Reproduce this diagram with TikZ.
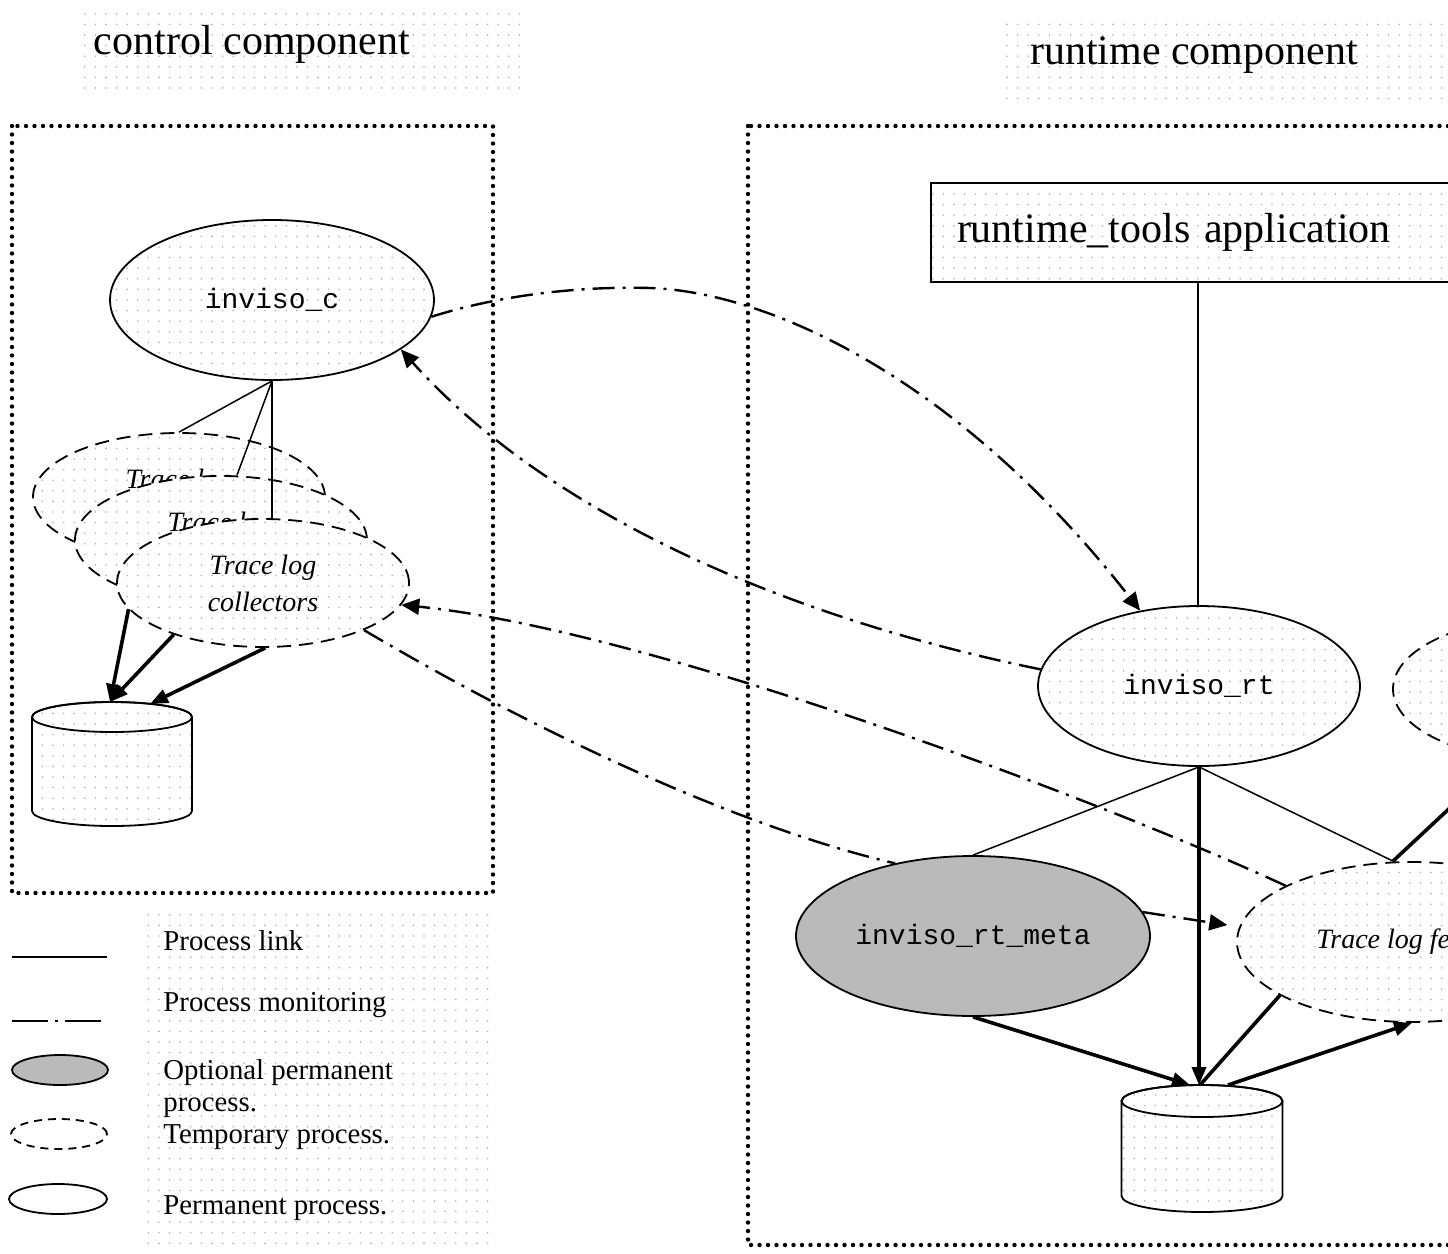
\documentclass[tikz,border=0pt]{standalone}
\usepackage{fontspec}
\setmainfont{Liberation Serif}
\setmonofont{Liberation Mono}
\usetikzlibrary{shapes.geometric,arrows.meta,patterns}

\pgfdeclarepatternformonly{paperdots}{\pgfqpoint{-1pt}{-1pt}}{\pgfqpoint{1pt}{1pt}}{\pgfqpoint{5.3pt}{5.3pt}}{\pgfpathcircle{\pgfpointorigin}{0.45pt}\pgfusepath{fill}}

\begin{document}
\begin{tikzpicture}[x=0.5pt,y=-0.5pt,
  speckled/.style={preaction={fill=white},pattern=paperdots,pattern color=black!30},
  proc/.style={ellipse,draw,line width=0.9pt,inner sep=0pt,speckled},
  tmpproc/.style={proc,dash pattern=on 7pt off 4pt},
  optproc/.style={ellipse,draw,line width=0.9pt,inner sep=0pt,fill=black!27},
  drum/.style={line width=0.9pt,speckled},
  link/.style={line width=0.75pt},
  feed/.style={line width=1.8pt,-{Triangle[length=9pt,width=7pt]}},
  monitor/.style={line width=1.2pt,dash pattern=on 11pt off 4pt on 1.5pt off 4pt,-{Triangle[length=9pt,width=8pt]}},
  zone/.style={line width=2.2pt,line cap=round,dash pattern=on 0pt off 4.25pt},
  heading/.style={font=\fontsize{21}{25}\selectfont},
  monolabel/.style={font=\ttfamily\fontsize{14}{17}\selectfont},
  slanted/.style={font=\itshape\fontsize{14}{18.5}\selectfont,align=center},
  legendtext/.style={anchor=west,font=\fontsize{14.4}{16}\selectfont,align=left,inner sep=0pt}]

\useasboundingbox (0,0) rectangle (1448,1254);
\clip (0,0) rectangle (1448,1254);

\path[speckled] (75,5) rectangle (520,95);
\path[speckled] (1000,15) rectangle (1448,105);
\path[speckled] (140,910) rectangle (490,1250);

\node[heading] (ctltitle) at (252,44) {control component};
\node[heading] (rttitle) at (1194,55) {runtime component};

\draw[zone] (12,126) rectangle (493,893);
\draw[zone] (748,126) rectangle (1560,1245);

\node[proc,monolabel,minimum width=162pt,minimum height=80pt] (ctl) at (272,300) {inviso\_c};

\node[tmpproc,slanted,minimum width=146pt,minimum height=64pt] (coll1) at (179,497) {Trace log\\collectors};
\node[tmpproc,slanted,minimum width=146pt,minimum height=64pt] (coll2) at (221,540) {Trace log\\collectors};
\node[tmpproc,slanted,minimum width=146pt,minimum height=64pt] (coll3) at (263,583) {Trace log\\collectors};

\draw[link] (ctl.south) -- (coll1.north);
\draw[link] (ctl.south) -- ([xshift=8pt]coll2.north);
\draw[link] (ctl.south) -- (ctl.south |- coll3.north);

\draw[drum] (32,717) -- (32,811) arc[start angle=180,end angle=0,x radius=80,y radius=15] -- (192,717) arc[start angle=0,end angle=-180,x radius=80,y radius=15] -- cycle;
\draw[line width=0.9pt] (112,717) ellipse[x radius=80,y radius=15];
\coordinate (dbctl) at (112,702);

\draw[feed] (coll3.191) -- ([xshift=-1pt]dbctl);
\draw[feed] (coll3.210) -- ([xshift=-1pt]dbctl);
\draw[feed] (coll3.272) -- ([xshift=19pt,yshift=-1pt]dbctl);

\node[draw,line width=0.9pt,speckled,heading,minimum width=267pt,minimum height=49.5pt,text width=241pt,inner xsep=13pt,align=left] (rtapp) at (1198,232.5) {runtime\_tools application};

\node[proc,monolabel,minimum width=161pt,minimum height=80pt] (rt) at (1199,686) {inviso\_rt};
\node[tmpproc,minimum width=150pt,minimum height=71pt] (rtaux) at (1543,689) {};
\node[optproc,monolabel,minimum width=177pt,minimum height=80pt] (rtmeta) at (973,936) {inviso\_rt\_meta};
\node[tmpproc,slanted,minimum width=175pt,minimum height=80pt] (fetch) at (1412,942) {Trace log fetcher};

\draw[drum] (1121.5,1101) -- (1121.5,1196) arc[start angle=180,end angle=0,x radius=80.5,y radius=16] -- (1282.5,1101) arc[start angle=0,end angle=-180,x radius=80.5,y radius=16] -- cycle;
\draw[line width=0.9pt] (1202,1101) ellipse[x radius=80.5,y radius=16];
\coordinate (dbrt) at (1202,1085);

\draw[link] (rtapp.south) -- (rtapp.south |- rt.north);
\draw[link] (rt.south) -- (rtmeta.north);
\draw[feed] (rt.south) -- (rt.south |- dbrt);
\draw[link] (rt.south) -- ([xshift=-9.5pt]fetch.north);
\draw[line width=1.8pt] ([xshift=-9.5pt]fetch.north) -- (rtaux.240);
\draw[feed] (rtmeta.south) -- ([xshift=-6pt]dbrt);
\draw[line width=1.8pt] (fetch.202) -- ([xshift=-1pt]dbrt);
\draw[feed] ([xshift=13pt]dbrt) -- (fetch.south);

\draw[monitor] (ctl.-6) .. controls (500,295) and (580,286) .. (650,288) .. controls (770,292) and (960,380) .. (rt.128);
\draw[monitor] (rt.174) .. controls (788,618) and (550,515) .. (ctl.-21);
\draw[monitor,-] (coll3.-25) .. controls (550,740) and (750,830) .. (rtmeta.137);
\draw[monitor] (fetch.156) .. controls (1100,800) and (650,630) .. (coll3.-9);
\draw[monitor,shorten >=6pt] (rtmeta.8) -- (fetch.175);

\draw[line width=1pt] (12,957) -- (107,957);
\draw[line width=1.2pt,dash pattern=on 18pt off 3.5pt on 1.5pt off 3.5pt] (12,1021) -- (107,1021);
\node[optproc,minimum width=48pt,minimum height=15pt] (keyopt) at (60,1070) {};
\node[ellipse,draw,line width=0.9pt,fill=white,dash pattern=on 4pt off 3pt,minimum width=48pt,minimum height=15pt] (keytmp) at (59,1134) {};
\node[ellipse,draw,line width=0.9pt,fill=white,minimum width=49pt,minimum height=15pt] (keyperm) at (58,1199) {};

\node[legendtext] (keylink) at (163,941) {Process link};
\node[legendtext] (keymon) at (163,1005) {Process monitoring};
\node[legendtext] (keyopttext) at (163,1089) {Optional permanent\\process.};
\node[legendtext] (keytmptext) at (163,1137) {Temporary process.};
\node[legendtext] (keypermtext) at (163,1208) {Permanent process.};

\end{tikzpicture}
\end{document}
